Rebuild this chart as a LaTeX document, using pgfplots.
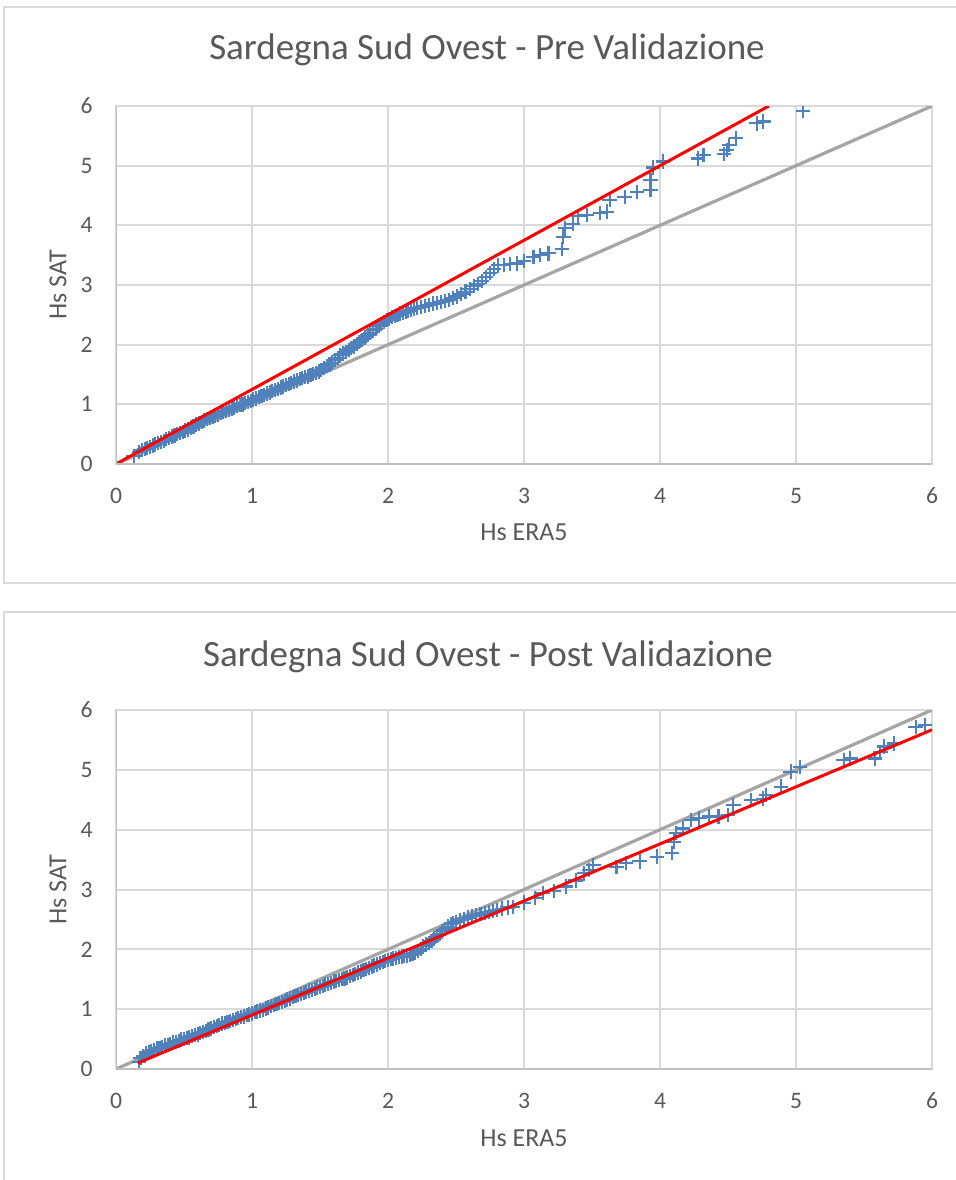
\documentclass[border=0pt]{standalone}
\usepackage{pgfplots}
\pgfplotsset{compat=1.18}
\usepackage{fontspec}
\setmainfont{Carlito}

\definecolor{textgray}{HTML}{595959}
\definecolor{gridgray}{HTML}{D9D9D9}
\definecolor{axisgray}{HTML}{BFBFBF}
\definecolor{diaggray}{HTML}{A5A5A5}
\definecolor{ptblue}{HTML}{4F81BD}

\pgfplotsset{
  qqstyle/.style={
    scale only axis,
    width=408pt, height=179pt,
    anchor=south west,
    xmin=0, xmax=6, ymin=0, ymax=6,
    xtick={0,1,2,3,4,5,6}, ytick={0,1,2,3,4,5,6},
    grid=major,
    major grid style={gridgray, line width=1pt},
    axis line style={gridgray, line width=1pt},
    major tick length=0pt,
    tick style={draw=none},
    ticklabel style={font=\fontsize{11.8}{14}\selectfont, text=textgray, inner sep=0pt},
    /pgf/number format/assume math mode=true,
    xticklabel style={anchor=center, yshift=-16pt},
    yticklabel style={anchor=east, xshift=-11.5pt},
    clip marker paths=true,
  },
  scat/.style={only marks, mark=+, mark size=3.6pt, color=ptblue, mark options={line width=1.05pt}},
}

% top chart: Pre Validazione
\pgfplotstableread{
x y
0.13 0.13
0.17 0.20
0.19 0.23
0.21 0.25
0.23 0.27
0.25 0.29
0.27 0.31
0.29 0.33
0.31 0.35
0.33 0.37
0.35 0.39
0.37 0.42
0.39 0.44
0.41 0.46
0.43 0.48
0.45 0.50
0.47 0.52
0.49 0.54
0.51 0.56
0.53 0.58
0.55 0.61
0.57 0.63
0.59 0.66
0.61 0.68
0.63 0.70
0.65 0.73
0.67 0.75
0.69 0.77
0.71 0.79
0.73 0.81
0.75 0.83
0.77 0.85
0.79 0.87
0.81 0.89
0.83 0.91
0.85 0.93
0.87 0.95
0.89 0.97
0.91 0.99
0.93 1.00
0.95 1.02
0.97 1.04
0.99 1.06
1.01 1.08
1.03 1.10
1.05 1.12
1.07 1.14
1.09 1.16
1.11 1.18
1.13 1.20
1.15 1.22
1.17 1.24
1.19 1.26
1.21 1.28
1.23 1.30
1.25 1.32
1.27 1.34
1.29 1.36
1.31 1.38
1.33 1.40
1.35 1.42
1.37 1.44
1.39 1.46
1.41 1.47
1.43 1.49
1.45 1.51
1.47 1.53
1.49 1.55
1.51 1.58
1.53 1.61
1.55 1.64
1.57 1.67
1.59 1.70
1.61 1.74
1.63 1.78
1.65 1.82
1.67 1.85
1.69 1.88
1.71 1.91
1.73 1.94
1.75 1.97
1.77 2.01
1.79 2.04
1.81 2.08
1.83 2.12
1.85 2.16
1.87 2.20
1.89 2.24
1.91 2.27
1.93 2.31
1.95 2.35
1.97 2.38
1.99 2.41
2.01 2.43
2.03 2.46
2.05 2.48
2.07 2.50
2.09 2.52
2.11 2.53
2.13 2.55
2.15 2.57
2.17 2.58
2.19 2.60
2.21 2.61
2.24 2.63
2.27 2.65
2.30 2.67
2.33 2.69
2.36 2.70
2.39 2.72
2.42 2.73
2.45 2.75
2.48 2.78
2.51 2.81
2.54 2.85
2.57 2.89
2.60 2.93
2.63 2.98
2.66 3.02
2.69 3.07
2.72 3.13
2.75 3.20
2.78 3.27
2.81 3.33
2.85 3.34
2.90 3.35
2.95 3.36
3.00 3.40
3.07 3.47
3.12 3.50
3.18 3.53
3.28 3.60
3.29 3.81
3.30 3.95
3.36 4.03
3.40 4.15
3.46 4.17
3.56 4.21
3.61 4.23
3.63 4.42
3.74 4.48
3.83 4.56
3.93 4.59
3.93 4.76
3.95 4.97
4.02 5.07
4.28 5.12
4.32 5.18
4.47 5.20
4.49 5.26
4.51 5.35
4.56 5.46
4.71 5.71
4.76 5.74
5.05 5.92
}\pretable

% bottom chart: Post Validazione
\pgfplotstableread{
x y
0.17 0.12
0.18 0.18
0.20 0.22
0.22 0.26
0.24 0.28
0.26 0.30
0.28 0.32
0.30 0.34
0.32 0.35
0.34 0.37
0.36 0.39
0.38 0.40
0.40 0.42
0.42 0.44
0.44 0.45
0.46 0.47
0.48 0.49
0.50 0.50
0.52 0.52
0.54 0.53
0.56 0.55
0.58 0.57
0.60 0.58
0.62 0.60
0.64 0.62
0.66 0.64
0.68 0.66
0.70 0.68
0.72 0.70
0.74 0.72
0.76 0.74
0.78 0.76
0.80 0.77
0.82 0.79
0.84 0.80
0.86 0.82
0.88 0.84
0.90 0.85
0.92 0.87
0.94 0.88
0.96 0.90
0.98 0.91
1.00 0.93
1.02 0.95
1.04 0.96
1.06 0.98
1.08 0.99
1.10 1.01
1.12 1.03
1.14 1.05
1.16 1.07
1.18 1.09
1.20 1.10
1.22 1.12
1.24 1.14
1.26 1.16
1.28 1.18
1.30 1.20
1.32 1.22
1.34 1.24
1.36 1.25
1.38 1.27
1.40 1.29
1.42 1.31
1.44 1.32
1.46 1.34
1.48 1.36
1.50 1.37
1.52 1.39
1.54 1.41
1.56 1.42
1.58 1.44
1.60 1.46
1.62 1.47
1.64 1.49
1.66 1.50
1.68 1.51
1.70 1.53
1.72 1.55
1.74 1.57
1.76 1.59
1.78 1.61
1.80 1.63
1.82 1.65
1.84 1.67
1.86 1.69
1.88 1.71
1.90 1.73
1.92 1.75
1.94 1.77
1.96 1.79
1.98 1.81
2.00 1.82
2.02 1.84
2.04 1.85
2.06 1.86
2.08 1.87
2.10 1.88
2.12 1.89
2.14 1.90
2.16 1.91
2.18 1.92
2.20 1.94
2.22 1.97
2.24 2.01
2.26 2.05
2.28 2.08
2.30 2.11
2.32 2.14
2.34 2.18
2.36 2.22
2.38 2.26
2.40 2.30
2.42 2.34
2.44 2.38
2.46 2.42
2.48 2.44
2.50 2.46
2.53 2.49
2.56 2.51
2.59 2.53
2.62 2.55
2.65 2.57
2.68 2.59
2.71 2.61
2.74 2.62
2.77 2.64
2.80 2.66
2.84 2.68
2.88 2.70
2.92 2.71
3.00 2.78
3.08 2.86
3.14 2.94
3.22 2.98
3.31 3.05
3.38 3.15
3.44 3.27
3.48 3.33
3.51 3.41
3.68 3.38
3.75 3.44
3.85 3.47
3.98 3.55
4.09 3.61
4.10 3.80
4.12 3.94
4.17 4.02
4.23 4.16
4.29 4.19
4.36 4.22
4.43 4.22
4.50 4.25
4.54 4.41
4.67 4.50
4.76 4.52
4.78 4.58
4.89 4.72
4.96 4.97
5.03 5.05
5.35 5.16
5.40 5.19
5.58 5.19
5.62 5.30
5.65 5.39
5.72 5.44
5.88 5.72
5.95 5.75
}\posttable

\begin{document}
\begin{tikzpicture}
\useasboundingbox (0,0) rectangle (478pt,-590pt);
\clip (0,0) rectangle (478pt,-590pt);
\fill[white] (0,0) rectangle (478pt,-590pt);

% chart frames
\draw[gridgray, line width=0.6pt] (2pt,-3.5pt) rectangle (490pt,-291.5pt);
\draw[gridgray, line width=0.6pt] (2pt,-306pt) rectangle (490pt,-600pt);

% ---- Pre Validazione ----
\begin{axis}[qqstyle, at={(58pt,-232pt)}]
\addplot[diaggray, line width=1.6pt] coordinates {(0,0) (6,6)};
\addplot[scat] table {\pretable};
\addplot[red, line width=1.5pt] coordinates {(0,0) (4.8,6)};
\draw[axisgray, line width=1pt] (axis cs:0,6) -- (axis cs:0,0) -- (axis cs:6,0);
\end{axis}
\node[text=textgray, font=\fontsize{18.5}{22}\selectfont] at (243.5pt,-25pt) {Sardegna Sud Ovest - Pre Validazione};
\node[text=textgray, font=\fontsize{13}{16}\selectfont] at (262pt,-266pt) {Hs ERA5};
\node[text=textgray, font=\fontsize{13}{16}\selectfont, rotate=90] at (29pt,-142.5pt) {Hs SAT};

% ---- Post Validazione ----
\begin{axis}[qqstyle, at={(58pt,-534.5pt)}, height=179.5pt]
\addplot[diaggray, line width=1.6pt] coordinates {(0,0) (6,6)};
\addplot[scat] table {\posttable};
\addplot[red, line width=1.5pt] coordinates {(0.16,0.10) (6,5.67)};
\draw[axisgray, line width=1pt] (axis cs:0,6) -- (axis cs:0,0) -- (axis cs:6,0);
\end{axis}
\node[text=textgray, font=\fontsize{18.5}{22}\selectfont] at (244pt,-328.5pt) {Sardegna Sud Ovest - Post Validazione};
\node[text=textgray, font=\fontsize{13}{16}\selectfont] at (262pt,-569pt) {Hs ERA5};
\node[text=textgray, font=\fontsize{13}{16}\selectfont, rotate=90] at (29pt,-444.75pt) {Hs SAT};
\end{tikzpicture}
\end{document}
